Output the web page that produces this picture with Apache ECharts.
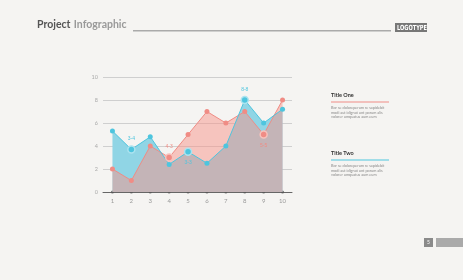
<!DOCTYPE html>
<html>
<head>
<meta charset="utf-8">
<script src="https://cdn.jsdelivr.net/npm/echarts@6/dist/echarts.min.js"></script>
<style>
  html, body { margin: 0; padding: 0; background: #f5f4f2; }
  #chart { width: 463px; height: 280px; }
</style>
</head>
<body>
<div id="chart"></div>
<script>
// values
const categories = ['1', '2', '3', '4', '5', '6', '7', '8', '9', '10'];
const yTicks = [0, 2, 4, 6, 8, 10];
const redValues = [2, 1, 4, 3, 5, 7, 6, 7, 5, 8];
const blueValues = [5.3, 3.7, 4.8, 2.4, 3.5, 2.5, 4, 8, 6, 7.2];
// highlighted points and their little labels
const blueMarks = {1: '3-4', 4: '3-3', 7: '8-8'};
const redMarks = {3: '4-3', 8: '5-5'};
const blueLabelBelow = [4];
const redLabelBelow = [8];

const RED = '#f08c85', BLUE = '#4ec5de';

let chart = echarts.init(document.getElementById('chart'));

function points(values, marks, below, color, halo) {
    return values.map(function (v, i) {
        if (marks[i] === undefined) return v;
        return {
            value: v,
            symbolSize: 7,
            itemStyle: {color: color, borderColor: halo, borderWidth: 1.5},
            label: {
                show: true,
                formatter: marks[i],
                position: below.indexOf(i) >= 0 ? 'bottom' : 'top',
                distance: 4,
                fontSize: 5,
                color: color
            }
        };
    });
}

let option = {
    backgroundColor: '#f5f4f2',
    animation: false,
    grid: {left: 103, top: 77, width: 189, height: 115},
    xAxis: {
        type: 'category',
        data: categories,
        boundaryGap: true,
        axisLine: {lineStyle: {color: '#666', width: 1}},
        axisTick: {show: false},
        axisLabel: {color: '#999', fontSize: 6, margin: 6, fontFamily: 'Lato'}
    },
    yAxis: {
        type: 'value',
        min: yTicks[0],
        max: yTicks[yTicks.length - 1],
        interval: 2,
        axisLine: {show: false},
        axisTick: {show: false},
        axisLabel: {color: '#aaa', fontSize: 5.5, margin: 5, fontFamily: 'Lato'},
        splitLine: {lineStyle: {color: '#cfcfcf', width: 1}}
    },
    series: [
        {   // blue area underneath
            type: 'line',
            data: blueValues,
            symbol: 'none',
            lineStyle: {width: 0},
            areaStyle: {color: '#90d5e5', opacity: 1},
            silent: true
        },
        {   // red area, half transparent so the overlap turns mauve
            type: 'line',
            data: redValues,
            symbol: 'none',
            lineStyle: {width: 0},
            areaStyle: {color: '#f7948a', opacity: 0.5},
            silent: true
        },
        {
            type: 'line',
            data: points(redValues, redMarks, redLabelBelow, RED, '#f7c2bc'),
            symbol: 'circle',
            symbolSize: 5,
            itemStyle: {color: RED},
            lineStyle: {color: RED, width: 1}
        },
        {
            type: 'line',
            data: points(blueValues, blueMarks, blueLabelBelow, BLUE, '#ace3ef'),
            symbol: 'circle',
            symbolSize: 5,
            itemStyle: {color: BLUE},
            lineStyle: {color: BLUE, width: 1}
        },
        {   // dots on the x axis
            type: 'scatter',
            data: categories.map(function () { return 0; }),
            symbolSize: 3,
            itemStyle: {color: '#555'},
            silent: true
        }
    ],
    graphic: [
        {type: 'text', left: 37, top: 19, style: {
            text: '{a|Project} {b|Infographic}',
            rich: {
                a: {fontSize: 10.5, fontWeight: 'bold', fill: '#555', fontFamily: 'Lato'},
                b: {fontSize: 10.5, fontWeight: 'bold', fill: '#999', fontFamily: 'Lato'}
            }
        }},
        {type: 'rect', shape: {x: 133, y: 30, width: 258, height: 1.5}, style: {fill: '#aaa'}},
        {type: 'rect', shape: {x: 395, y: 23, width: 32, height: 9}, style: {fill: '#777'}},
        {type: 'text', x: 397, y: 24.3, scaleX: 0.72, style: {text: 'LOGOTYPE', fontSize: 7, fill: '#fff', fontFamily: 'DejaVu Sans', fontWeight: 'bold'}},

        {type: 'text', left: 331, top: 92, style: {text: 'Title One', fontSize: 5.5, fontWeight: 'bold', fill: '#333', fontFamily: 'Lato'}},
        {type: 'rect', shape: {x: 331, y: 101.5, width: 58, height: 1}, style: {fill: RED}},
        {type: 'text', left: 331, top: 106, style: {
            text: 'Bor se doloreperum re sapidebit\nmodi aut idignat unt porum alis\nvolorer umquatus aum eum',
            fontSize: 3.8, lineHeight: 4.4, fill: '#888', fontFamily: 'Lato'}},

        {type: 'text', left: 331, top: 150, style: {text: 'Title Two', fontSize: 5.5, fontWeight: 'bold', fill: '#333', fontFamily: 'Lato'}},
        {type: 'rect', shape: {x: 331, y: 159.5, width: 58, height: 1}, style: {fill: BLUE}},
        {type: 'text', left: 331, top: 164, style: {
            text: 'Bor se doloreperum re sapidebit\nmodi aut idignat unt porum alis\nvolorer umquatus aum eum',
            fontSize: 3.8, lineHeight: 4.4, fill: '#888', fontFamily: 'Lato'}},

        {type: 'rect', shape: {x: 424, y: 238, width: 9, height: 9}, style: {fill: '#8a8a8a'}},
        {type: 'text', left: 427, top: 240, style: {text: '5', fontSize: 5, fill: '#fff', fontFamily: 'Lato'}},
        {type: 'rect', shape: {x: 436, y: 238, width: 27, height: 9}, style: {fill: '#aaa'}}
    ]
};

chart.setOption(option);
</script>
</body>
</html>
